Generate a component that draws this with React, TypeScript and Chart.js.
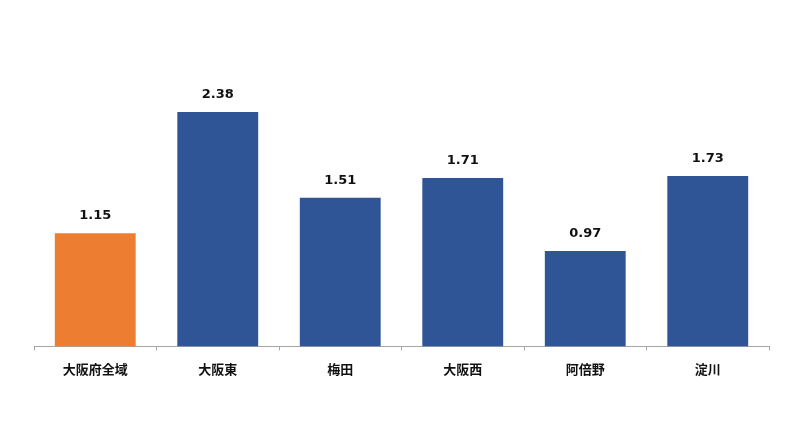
import React, { useEffect, useRef } from "react";
import { Chart, registerables } from "chart.js";

Chart.register(...registerables);

const categories = ["大阪府全域", "大阪東", "梅田", "大阪西", "阿倍野", "淀川"];
const values = [1.15, 2.38, 1.51, 1.71, 0.97, 1.73];
const barColors = ["#ED7D31", "#2F5597", "#2F5597", "#2F5597", "#2F5597", "#2F5597"];

const LABEL_FONT = '"DejaVu Sans", "Noto Sans CJK JP", sans-serif';

const valueLabels = {
  id: "valueLabels",
  afterDatasetsDraw(chart: any) {
    const ctx = chart.ctx;
    const meta = chart.getDatasetMeta(0);
    ctx.save();
    ctx.font = `bold 13px ${LABEL_FONT}`;
    ctx.fillStyle = "#111111";
    ctx.textAlign = "center";
    ctx.textBaseline = "alphabetic";
    meta.data.forEach((bar: any, i: number) => {
      ctx.fillText(values[i].toFixed(2), bar.x, bar.y - 14);
    });
    ctx.restore();
  },
};

export default function App() {
  const canvasRef = useRef<HTMLCanvasElement | null>(null);

  useEffect(() => {
    document.body.style.margin = "0";
    const canvas = canvasRef.current;
    if (!canvas) return;
    const chart = new Chart(canvas, {
      type: "bar",
      data: {
        labels: categories,
        datasets: [
          {
            data: values,
            backgroundColor: barColors,
            borderWidth: 0,
            categoryPercentage: 0.66,
            barPercentage: 1,
          },
        ],
      },
      options: {
        animation: false,
        responsive: false,
        maintainAspectRatio: false,
        layout: { padding: { left: 34, right: 31, top: 51, bottom: 47 } },
        plugins: {
          legend: { display: false },
          tooltip: { enabled: false },
        },
        scales: {
          x: {
            offset: true,
            grid: {
              display: true,
              offset: true,
              drawOnChartArea: false,
              drawTicks: true,
              tickLength: 4,
              color: "#a6a6a6",
            },
            border: { display: true, color: "#a6a6a6", width: 1 },
            ticks: {
              color: "#111111",
              padding: 11,
              font: { family: '"Noto Sans CJK JP", sans-serif', size: 13, weight: "bold" },
            },
          },
          y: {
            display: false,
            min: 0,
            max: 3,
          },
        },
      },
      plugins: [valueLabels],
    });
    return () => chart.destroy();
  }, []);

  return (
    <div style={{ position: "absolute", left: 0, top: 0, width: 800, height: 435, background: "#ffffff" }}>
      <canvas ref={canvasRef} width={800} height={435} />
    </div>
  );
}
